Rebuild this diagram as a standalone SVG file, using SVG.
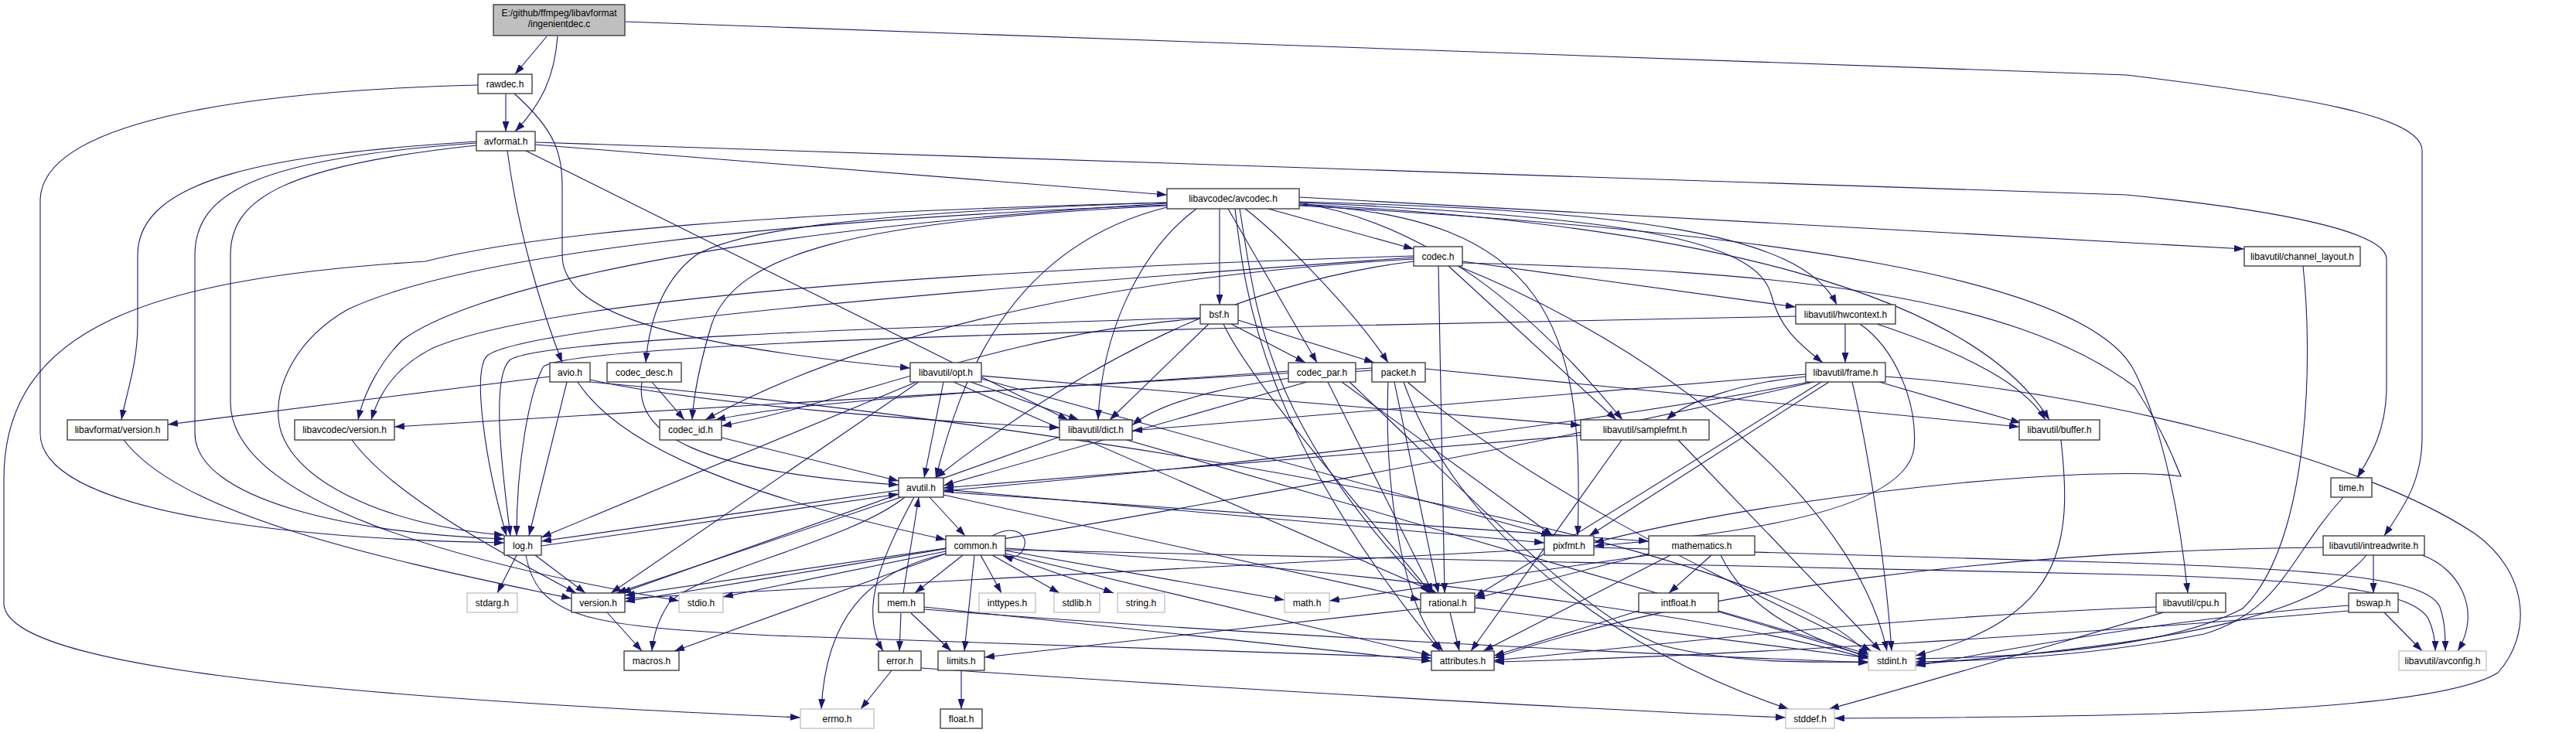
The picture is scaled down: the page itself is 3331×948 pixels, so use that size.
<svg xmlns="http://www.w3.org/2000/svg" width="3331" height="948" viewBox="0 0 3331 948">
<defs>
<marker id="ah" viewBox="0 0 13 9" refX="13" refY="4.5" markerWidth="13" markerHeight="9" markerUnits="userSpaceOnUse" orient="auto"><path d="M0,0 L13,4.5 L0,9 z" fill="#191970"/></marker>
</defs>
<style>
.e path{fill:none;stroke:#191970;stroke-width:1.1;marker-end:url(#ah)}
.n rect{fill:#fff;stroke:#333;stroke-width:1.3}
.s rect{fill:#fff;stroke:#bfbfbf;stroke-width:1.3}
.r rect{fill:#bfbfbf;stroke:#333;stroke-width:1.3}
text{font-family:"Liberation Sans",Arial,sans-serif;font-size:12px;fill:#000;text-anchor:middle}
</style>
<rect x="0" y="0" width="3331" height="948" fill="#fff"/>
<g id="edges" class="e">
<path d="M707,47 L666,96"/>
<path d="M721,47 C717,100 700,135 666,170"/>
<path d="M808,28 L2750,97 C2980,125 3132,150 3132,195 L3132,565 C3132,625 3105,660 3083,693"/>
<path d="M654,121 L654,170"/>
<path d="M618,110 C300,118 52,160 52,260 L52,560 C52,670 420,698 652,702"/>
<path d="M665,121 C720,170 727,200 727,245 L727,330 C727,400 850,445 1177,476"/>
<path d="M692,187 L1509,252"/>
<path d="M692,184 L2750,252 C2950,272 3086,300 3086,335 L3086,500 C3086,560 3062,595 3048,618"/>
<path d="M680,195 L1381,543"/>
<path d="M656,195 C670,300 700,400 727,469"/>
<path d="M616,183 C350,200 178,230 178,330 L178,420 C178,470 163,510 157,543"/>
<path d="M616,185 C330,205 252,250 252,330 L252,560 C252,645 450,690 652,697"/>
<path d="M616,188 C360,215 298,260 298,330 L298,520 C298,650 600,730 878,777"/>
<path d="M711,487 L217,549"/>
<path d="M733,494 L684,693"/>
<path d="M747,494 C800,575 950,640 1223,698"/>
<path d="M763,491 C900,522 1200,545 1370,553"/>
<path d="M763,494 C1400,550 2300,700 2416,848"/>
<path d="M843,494 L885,543"/>
<path d="M830,494 C820,560 900,610 1162,627"/>
<path d="M933,566 L1162,622"/>
<path d="M455,569 C500,630 600,690 745,767"/>
<path d="M160,569 C230,660 450,715 739,774"/>
<path d="M668,718 L643,767"/>
<path d="M692,718 L757,767"/>
<path d="M700,706 L1162,639"/>
<path d="M680,718 C695,800 760,810 1000,822 L1851,851"/>
<path d="M785,792 L830,842"/>
<path d="M1202,643 L1248,693"/>
<path d="M1162,634 L700,700"/>
<path d="M1165,643 L797,767"/>
<path d="M1170,643 C1100,700 900,740 865,780 C852,800 845,820 843,842"/>
<path d="M1182,643 C1140,720 1110,790 1142,842"/>
<path d="M1220,640 L1837,776"/>
<path d="M1220,636 L2132,700"/>
<path d="M1220,633 L1997,702"/>
<path d="M1283,693 C1310,678 1328,690 1325,705 C1322,718 1312,724 1297,719"/>
<path d="M1245,718 L1183,767"/>
<path d="M1260,718 L1247,842"/>
<path d="M1268,718 L1295,767"/>
<path d="M1283,718 L1370,767"/>
<path d="M1297,717 L1440,767"/>
<path d="M1223,716 C1120,740 1068,800 1062,917"/>
<path d="M1300,712 L1661,776"/>
<path d="M1300,709 C1700,730 2200,790 2416,852"/>
<path d="M1223,713 L935,772"/>
<path d="M1300,716 L1851,848"/>
<path d="M1223,716 L872,842"/>
<path d="M1223,709 L808,770"/>
<path d="M1300,711 L2750,743 C3030,750 3120,768 3140,800 C3147,815 3149,830 3149,842"/>
<path d="M1165,793 L1163,842"/>
<path d="M1178,793 L1230,842"/>
<path d="M1168,767 L1188,643"/>
<path d="M1195,785 L1851,855"/>
<path d="M1195,788 C1600,820 2100,845 2416,857"/>
<path d="M1153,867 L1113,917"/>
<path d="M1191,864 C1500,885 2000,915 2309,928"/>
<path d="M1243,867 L1243,917"/>
<path d="M1875,792 L1887,842"/>
<path d="M1837,787 L1273,850"/>
<path d="M1907,786 L2416,851"/>
<path d="M2213,718 L2158,767"/>
<path d="M2132,716 L1907,774"/>
<path d="M2132,718 L1719,777"/>
<path d="M2160,718 L1918,842"/>
<path d="M2225,718 C2260,790 2330,822 2416,850"/>
<path d="M2119,790 L1932,848"/>
<path d="M2222,791 L2416,849"/>
<path d="M1997,710 L808,774"/>
<path d="M2061,708 L2750,728 C3040,737 3140,752 3155,785 C3162,805 3162,825 3162,842"/>
<path d="M1370,565 L803,767"/>
<path d="M1457,569 C1900,700 2250,800 2416,846"/>
<path d="M1220,494 L1195,618"/>
<path d="M1255,494 L1395,543"/>
<path d="M1185,494 L700,695"/>
<path d="M1188,494 L790,767"/>
<path d="M1233,494 L1858,767"/>
<path d="M1269,490 L2006,693"/>
<path d="M1269,486 L2044,550"/>
<path d="M1592,419 L1688,469"/>
<path d="M1601,414 L1777,469"/>
<path d="M1552,412 C1300,430 1100,520 933,551"/>
<path d="M1563,419 L1435,543"/>
<path d="M1552,411 C1100,425 700,440 660,465 C635,485 648,600 660,693"/>
<path d="M1582,419 C1620,500 1780,680 1850,767"/>
<path d="M1577,270 L1577,394"/>
<path d="M1640,270 L1828,322"/>
<path d="M1588,270 L1703,469"/>
<path d="M1610,270 C1650,300 1750,400 1795,469"/>
<path d="M1509,266 C1100,285 950,330 920,420 C905,470 897,510 895,543"/>
<path d="M1509,262 C1100,275 950,300 900,330 C860,360 840,410 835,469"/>
<path d="M1509,263 C900,300 600,380 520,440 C490,470 470,510 463,543"/>
<path d="M1509,262 C1000,275 700,300 550,338 C200,360 5,420 5,620 L5,780 C5,860 400,900 1035,928"/>
<path d="M1509,268 C1300,320 1240,500 1210,618"/>
<path d="M1680,262 C1850,290 1980,400 2098,543"/>
<path d="M1597,270 C1610,380 1630,560 1862,842"/>
<path d="M1680,264 C2200,290 2550,380 2650,543"/>
<path d="M1680,266 C2300,300 2700,360 2760,480 C2800,560 2820,680 2829,767"/>
<path d="M1680,255 L2902,322"/>
<path d="M1680,262 C2100,280 2270,310 2290,380 C2300,420 2320,440 2357,469"/>
<path d="M1680,261 C2100,272 2330,300 2375,394"/>
<path d="M1547,270 C1480,320 1425,420 1420,543"/>
<path d="M1680,265 C2000,280 2050,420 2040,693"/>
<path d="M1603,270 C1625,400 1630,540 1848,767"/>
<path d="M1891,338 L2322,397"/>
<path d="M1885,344 C2150,450 2400,650 2440,842"/>
<path d="M1828,333 C1300,370 680,420 630,460 C610,480 628,600 655,693"/>
<path d="M1828,335 C1400,360 1100,440 912,543"/>
<path d="M1828,331 C1200,350 700,390 560,450 C510,475 490,510 480,543"/>
<path d="M1860,344 L1868,767"/>
<path d="M1873,344 L2090,543"/>
<path d="M1828,338 C1650,360 1450,430 1210,618"/>
<path d="M1891,340 C2300,350 2600,380 2760,500 C2790,545 2810,590 2820,616 C2700,600 2300,640 2061,702"/>
<path d="M1690,494 L1220,628"/>
<path d="M1717,494 L1853,767"/>
<path d="M1735,494 L2008,693"/>
<path d="M1745,494 C1900,640 2050,800 2150,835 C2250,860 2350,856 2416,856"/>
<path d="M1666,480 C1400,500 1050,515 925,543"/>
<path d="M1795,494 C1790,620 1810,780 1866,842"/>
<path d="M1803,494 L1860,767"/>
<path d="M1815,494 C1880,680 2080,840 2313,917"/>
<path d="M1820,494 C2000,650 2300,780 2420,842"/>
<path d="M1843,477 L2611,552"/>
<path d="M1774,479 C1600,490 1500,520 1464,550"/>
<path d="M1774,476 L510,552"/>
<path d="M2044,563 L1220,631"/>
<path d="M2097,569 L1902,842"/>
<path d="M2170,569 L2432,842"/>
<path d="M2430,494 L2613,547"/>
<path d="M2335,487 C2250,495 2180,520 2155,543"/>
<path d="M2335,484 L1464,557"/>
<path d="M2340,494 C2000,560 1500,610 1220,635"/>
<path d="M2345,494 C1800,620 1100,730 808,778"/>
<path d="M2355,494 L1907,772"/>
<path d="M2365,494 L2055,693"/>
<path d="M2395,494 C2420,600 2440,750 2446,842"/>
<path d="M2438,487 C2700,505 3050,590 3200,690 C3270,740 3275,820 3230,870 C3150,920 2800,927 2372,929"/>
<path d="M2386,419 L2386,469"/>
<path d="M2427,419 C2550,460 2620,500 2645,543"/>
<path d="M2405,419 C2450,450 2480,520 2475,580 C2465,650 2300,688 2061,706"/>
<path d="M2322,409 L1650,423 C1150,435 720,452 702,475 C684,510 668,600 668,693"/>
<path d="M2665,569 C2680,700 2670,800 2477,848"/>
<path d="M2978,344 C2990,450 2990,700 2900,787 C2800,840 2600,850 2477,852"/>
<path d="M3030,643 C2960,720 2950,790 2850,820 C2700,850 2550,855 2477,856"/>
<path d="M3069,718 L3069,767"/>
<path d="M3132,718 C3180,735 3210,790 3178,842"/>
<path d="M3004,708 C2600,712 2200,760 1932,851"/>
<path d="M3060,718 C3000,790 2850,830 2477,859"/>
<path d="M3083,792 L3132,842"/>
<path d="M3037,783 C2800,800 2600,840 2477,861"/>
<path d="M3037,790 C2700,820 2200,850 1932,856"/>
<path d="M2798,792 C2700,820 2500,880 2365,917"/>
<path d="M2788,785 C2400,800 2100,840 1932,854"/>
<path d="M1509,265 C1000,285 600,330 450,400 C380,440 357,500 360,540 C365,620 500,680 652,692"/>
</g>
<g id="n_root" class="r"><rect x="638" y="6" width="170" height="40"/><text x="723" y="20.5">E:/github/ffmpeg/libavformat</text><text x="723" y="35">/ingenientdec.c</text></g>
<g id="n_rawdec" class="n"><rect x="618" y="96" width="70" height="25"/><text x="653" y="112.5">rawdec.h</text></g>
<g id="n_avformat" class="n"><rect x="616" y="170" width="76" height="25"/><text x="654" y="186.5">avformat.h</text></g>
<g id="n_avcodec" class="n"><rect x="1509" y="244" width="171" height="26"/><text x="1594.5" y="261">libavcodec/avcodec.h</text></g>
<g id="n_codec" class="n"><rect x="1828" y="319" width="63" height="25"/><text x="1859.5" y="335.5">codec.h</text></g>
<g id="n_channel_layout" class="n"><rect x="2902" y="319" width="150" height="25"/><text x="2977" y="335.5">libavutil/channel_layout.h</text></g>
<g id="n_bsf" class="n"><rect x="1552" y="394" width="49" height="25"/><text x="1576.5" y="410.5">bsf.h</text></g>
<g id="n_hwcontext" class="n"><rect x="2322" y="394" width="129" height="25"/><text x="2386.5" y="410.5">libavutil/hwcontext.h</text></g>
<g id="n_avio" class="n"><rect x="711" y="469" width="52" height="25"/><text x="737" y="485.5">avio.h</text></g>
<g id="n_codec_desc" class="n"><rect x="785" y="469" width="96" height="25"/><text x="833" y="485.5">codec_desc.h</text></g>
<g id="n_opt" class="n"><rect x="1177" y="469" width="92" height="25"/><text x="1223" y="485.5">libavutil/opt.h</text></g>
<g id="n_codec_par" class="n"><rect x="1666" y="469" width="87" height="25"/><text x="1709.5" y="485.5">codec_par.h</text></g>
<g id="n_packet" class="n"><rect x="1774" y="469" width="69" height="25"/><text x="1808.5" y="485.5">packet.h</text></g>
<g id="n_frame" class="n"><rect x="2335" y="469" width="103" height="25"/><text x="2386.5" y="485.5">libavutil/frame.h</text></g>
<g id="n_lavf_version" class="n"><rect x="87" y="543" width="130" height="26"/><text x="152" y="560">libavformat/version.h</text></g>
<g id="n_lavc_version" class="n"><rect x="381" y="543" width="129" height="26"/><text x="445.5" y="560">libavcodec/version.h</text></g>
<g id="n_codec_id" class="n"><rect x="853" y="543" width="80" height="26"/><text x="893" y="560">codec_id.h</text></g>
<g id="n_dict" class="n"><rect x="1370" y="543" width="94" height="26"/><text x="1417" y="560">libavutil/dict.h</text></g>
<g id="n_samplefmt" class="n"><rect x="2044" y="543" width="166" height="26"/><text x="2127" y="560">libavutil/samplefmt.h</text></g>
<g id="n_buffer" class="n"><rect x="2611" y="543" width="104" height="26"/><text x="2663" y="560">libavutil/buffer.h</text></g>
<g id="n_avutil" class="n"><rect x="1162" y="618" width="58" height="25"/><text x="1191" y="634.5">avutil.h</text></g>
<g id="n_time" class="n"><rect x="3014" y="618" width="53" height="25"/><text x="3040.5" y="634.5">time.h</text></g>
<g id="n_log" class="n"><rect x="652" y="693" width="48" height="25"/><text x="676" y="709.5">log.h</text></g>
<g id="n_common" class="n"><rect x="1223" y="693" width="77" height="25"/><text x="1261.5" y="709.5">common.h</text></g>
<g id="n_pixfmt" class="n"><rect x="1997" y="693" width="64" height="25"/><text x="2029" y="709.5">pixfmt.h</text></g>
<g id="n_mathematics" class="n"><rect x="2132" y="693" width="137" height="25"/><text x="2200.5" y="709.5">mathematics.h</text></g>
<g id="n_intreadwrite" class="n"><rect x="3004" y="693" width="131" height="25"/><text x="3069.5" y="709.5">libavutil/intreadwrite.h</text></g>
<g id="n_stdarg" class="s"><rect x="604" y="767" width="65" height="25"/><text x="636.5" y="783.5">stdarg.h</text></g>
<g id="n_version" class="n"><rect x="739" y="767" width="69" height="25"/><text x="773.5" y="783.5">version.h</text></g>
<g id="n_stdio" class="s"><rect x="878" y="767" width="57" height="25"/><text x="906.5" y="783.5">stdio.h</text></g>
<g id="n_mem" class="n"><rect x="1136" y="767" width="59" height="25"/><text x="1165.5" y="783.5">mem.h</text></g>
<g id="n_inttypes" class="s"><rect x="1266" y="767" width="73" height="25"/><text x="1302.5" y="783.5">inttypes.h</text></g>
<g id="n_stdlib" class="s"><rect x="1363" y="767" width="59" height="25"/><text x="1392.5" y="783.5">stdlib.h</text></g>
<g id="n_string" class="s"><rect x="1445" y="767" width="61" height="25"/><text x="1475.5" y="783.5">string.h</text></g>
<g id="n_math" class="s"><rect x="1661" y="767" width="58" height="25"/><text x="1690" y="783.5">math.h</text></g>
<g id="n_rational" class="n"><rect x="1837" y="767" width="70" height="25"/><text x="1872" y="783.5">rational.h</text></g>
<g id="n_intfloat" class="n"><rect x="2119" y="767" width="103" height="25"/><text x="2170.5" y="783.5">intfloat.h</text></g>
<g id="n_cpu" class="n"><rect x="2788" y="767" width="90" height="25"/><text x="2833" y="783.5">libavutil/cpu.h</text></g>
<g id="n_bswap" class="n"><rect x="3037" y="767" width="64" height="25"/><text x="3069" y="783.5">bswap.h</text></g>
<g id="n_macros" class="n"><rect x="807" y="842" width="71" height="25"/><text x="842.5" y="858.5">macros.h</text></g>
<g id="n_error" class="n"><rect x="1136" y="842" width="55" height="25"/><text x="1163.5" y="858.5">error.h</text></g>
<g id="n_limits" class="n"><rect x="1213" y="842" width="60" height="25"/><text x="1243" y="858.5">limits.h</text></g>
<g id="n_attributes" class="n"><rect x="1851" y="842" width="81" height="25"/><text x="1891.5" y="858.5">attributes.h</text></g>
<g id="n_stdint" class="s"><rect x="2416" y="842" width="61" height="25"/><text x="2446.5" y="858.5">stdint.h</text></g>
<g id="n_avconfig" class="s"><rect x="3102" y="842" width="113" height="25"/><text x="3158.5" y="858.5">libavutil/avconfig.h</text></g>
<g id="n_errno" class="s"><rect x="1035" y="917" width="95" height="25"/><text x="1082.5" y="933.5">errno.h</text></g>
<g id="n_float" class="n"><rect x="1216" y="917" width="54" height="25"/><text x="1243" y="933.5">float.h</text></g>
<g id="n_stddef" class="s"><rect x="2309" y="917" width="63" height="25"/><text x="2340.5" y="933.5">stddef.h</text></g>
</svg>
